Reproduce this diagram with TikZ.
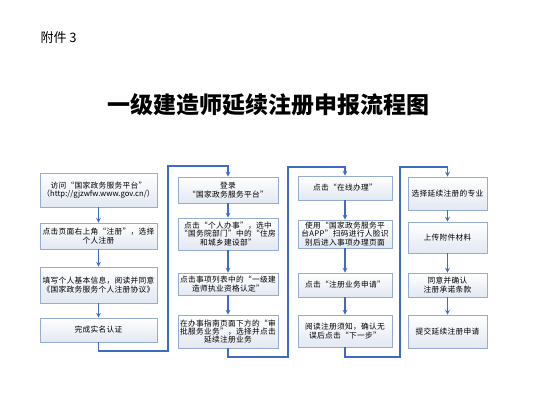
\documentclass[tikz,border=0pt]{standalone}
\usepackage{fontspec}
\setmainfont{Noto Sans CJK SC}
\newfontfamily\boxfont{Noto Sans CJK SC}[LetterSpace=4]
\usepackage{tikz}
\usetikzlibrary{arrows, positioning}
\tikzset{>=stealth}
\definecolor{boxline}{RGB}{150,172,210}
\definecolor{boxfill}{RGB}{226,232,242}
\definecolor{flowline}{RGB}{62,108,196}
\tikzset{
  stepbox/.style={draw=boxline, line width=0.8pt, top color=white, bottom color=boxfill,
    align=center, inner sep=1pt, font=\boxfont\fontsize{7.7}{8.4}\selectfont},
  colA/.style={stepbox, minimum width=117pt},
  colB/.style={stepbox, minimum width=100pt},
  colC/.style={stepbox, minimum width=94pt},
  colD/.style={stepbox, minimum width=79pt},
  flow/.style={draw=flowline, line width=1.1pt}
}
\begin{document}
\begin{tikzpicture}[>=stealth, x=1pt, y=-1pt]
			\fill[white] (0,0) rectangle (559,413);
			\useasboundingbox (0,0) rectangle (559,413);
			\node[anchor=west, font=\fontsize{13}{15}\selectfont] (T0) at (37,38) {附件 3};
			\node[font=\bfseries\fontsize{23}{25}\selectfont] (T1) at (268.5,105) {一级建造师延续注册申报流程图};
			% column 1
			\node[colA, minimum height=34pt] (A1) at (98.5,190) {访问“国家政务服务平台”\\{\normalfont（http://gjzwfw.www.gov.cn/）}};
			\node[colA, minimum height=26pt] (A2) at (98.5,236) {点击页面右上角“注册”，选择\\个人注册};
			\node[colA, minimum height=36pt] (A3) at (98.5,285) {填写个人基本信息，阅读并同意\\《国家政务服务个人注册协议》};
			\node[colA, minimum height=24pt] (A4) at (98.5,330) {完成实名认证};
			% column 2
			\node[colB, minimum height=26pt] (B1) at (228,190) {登录\\“国家政务服务平台”};
			\node[colB, minimum height=32pt] (B2) at (228,234) {点击“个人办事”，选中\\“国务院部门”中的“住房\\和城乡建设部”};
			\node[colB, minimum height=22pt] (B3) at (228,284) {点击事项列表中的“一级建\\造师执业资格认定”};
			\node[colB, minimum height=33pt] (B4) at (228,331.5) {在办事指南页面下方的“审\\批服务业务”，选择并点击\\延续注册业务};
			% column 3
			\node[colC, minimum height=24pt] (C1) at (345,188) {点击“在线办理”};
			\node[colC, minimum height=28pt] (C2) at (345,234) {使用“国家政务服务平\\台APP”扫码进行人脸识\\别后进入事项办理页面};
			\node[colC, minimum height=24pt] (C3) at (345,285) {点击“注册业务申请”};
			\node[colC, minimum height=32pt] (C4) at (345,331) {阅读注册须知，确认无\\误后点击“下一步”};
			% column 4
			\node[colD, minimum height=33pt] (D1) at (447.5,193.5) {选择延续注册的专业};
			\node[colD, minimum height=31pt] (D2) at (447.5,237.5) {上传附件材料};
			\node[colD, minimum height=24pt] (D3) at (447.5,285) {同意并确认\\注册承诺条款};
			\node[colD, minimum height=33pt] (D4) at (447.5,331.5) {提交延续注册申请};
			% turning points
			\coordinate (L1) at (168,351); \coordinate (L2) at (168,166);
			\coordinate (M1) at (288,357); \coordinate (M2) at (288,167);
			\coordinate (N1) at (400,357); \coordinate (N2) at (400,167);
			\draw [flow,->](A1)--(A2); \draw [flow,->](A2)--(A3); \draw [flow,->](A3)--(A4);
			\draw [flow,->](B1)--(B2); \draw [flow,->](B2)--(B3); \draw [flow,->](B3)--(B4);
			\draw [flow,->](C1)--(C2); \draw [flow,->](C2)--(C3); \draw [flow,->](C3)--(C4);
			\draw [flow,->](D1)--(D2); \draw [flow,->](D2)--(D3); \draw [flow,->](D3)--(D4);
			\draw [flow,->](A4.south) |- (L1) -- (L2) -| (B1.north);
			\draw [flow,->](B4.south) |- (M1) -- (M2) -| (C1.north);
			\draw [flow,->](C4.south) |- (N1) -- (N2) -| (D1.north);
		\end{tikzpicture}
\end{document}
